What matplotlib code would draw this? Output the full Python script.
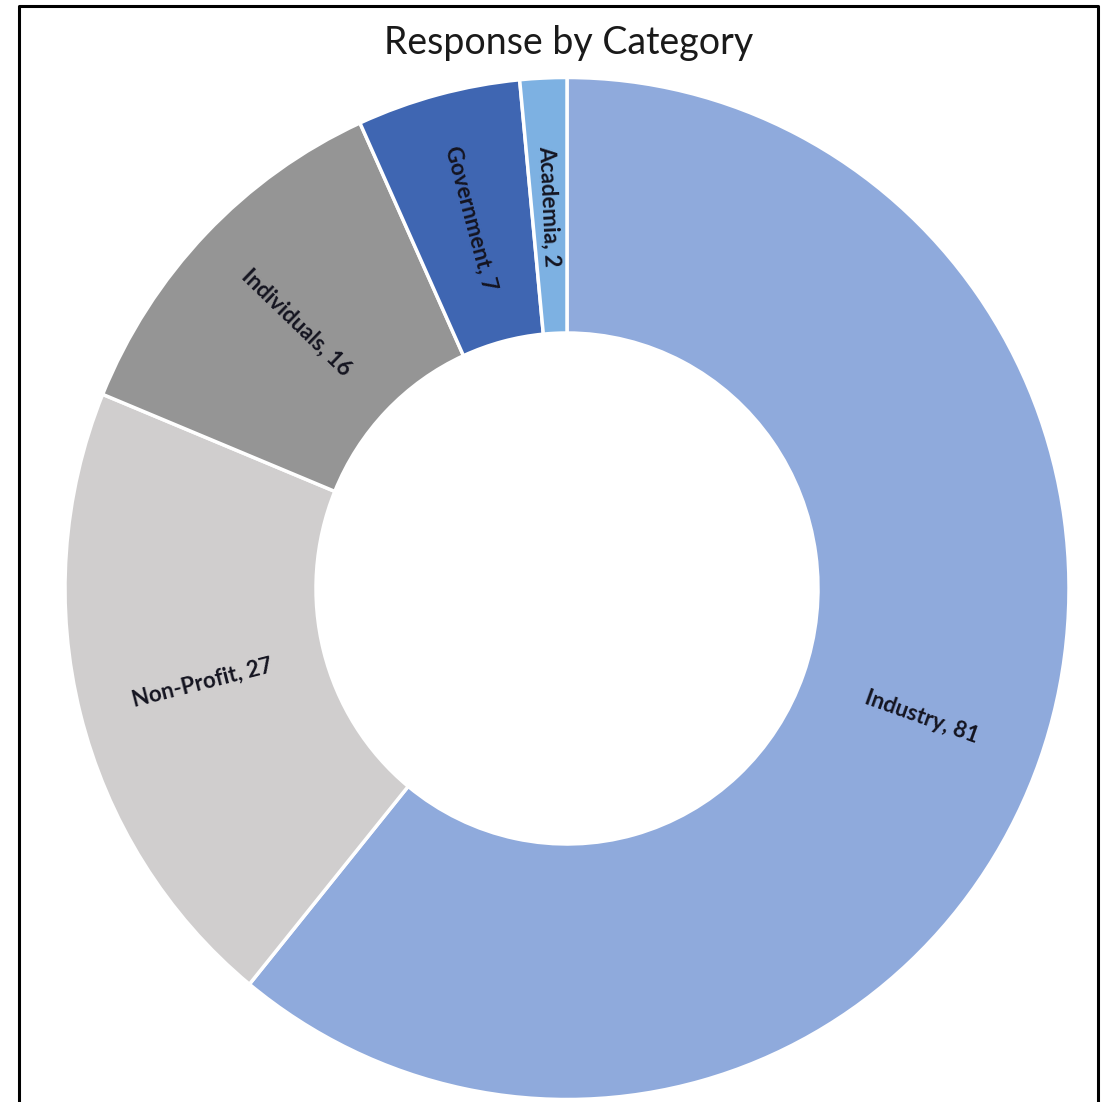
import numpy as np
import matplotlib.pyplot as plt

# Data
categories = ['Industry', 'Non-Profit', 'Individuals', 'Government', 'Academia']
counts = [81, 27, 16, 7, 2]
colors = ['#8FAADC', '#D0CECE', '#959595', '#3F66B2', '#7DB1E2']

fig = plt.figure(figsize=(11.04, 11.02), dpi=100)
ax = fig.add_axes([0, 0, 1, 1])

wedges, _ = ax.pie(counts, colors=colors, startangle=90, counterclock=False,
                   radius=1.0,
                   wedgeprops=dict(width=0.5, edgecolor='white', linewidth=2.5))

# label each wedge in the middle of the ring, rotated radially
for w, name, n in zip(wedges, categories, counts):
    ang = (w.theta1 + w.theta2) / 2
    r = 0.75
    x = r * np.cos(np.deg2rad(ang))
    y = r * np.sin(np.deg2rad(ang))
    rot = ang % 360
    if 90 < rot < 270:
        rot -= 180
    ax.text(x, y, f'{name}, {n}', rotation=rot, rotation_mode='anchor',
            ha='center', va='center', fontsize=16, fontweight='bold',
            family='Lato', color='#141420')

# map data units to pixels of the reference
ax.set_aspect('auto')
ax.set_xlim(-567 / 502, (1104 - 567) / 502)
ax.set_ylim(-(1102 - 588.5) / 511, 588.5 / 511)
ax.axis('off')

fig.text(569 / 1104, 1 - 43 / 1102, 'Response by Category', ha='center', va='center',
         fontsize=27, family='Lato', color='#1a1a1a')

# outer frame (open at the bottom)
fig.add_artist(plt.Line2D([19 / 1104, 19 / 1104, 1098 / 1104, 1098 / 1104],
                          [0, 1 - 6 / 1102, 1 - 6 / 1102, 0],
                          transform=fig.transFigure, color='black', linewidth=2.2))

fig.savefig('out.png', dpi=100, facecolor='white')
